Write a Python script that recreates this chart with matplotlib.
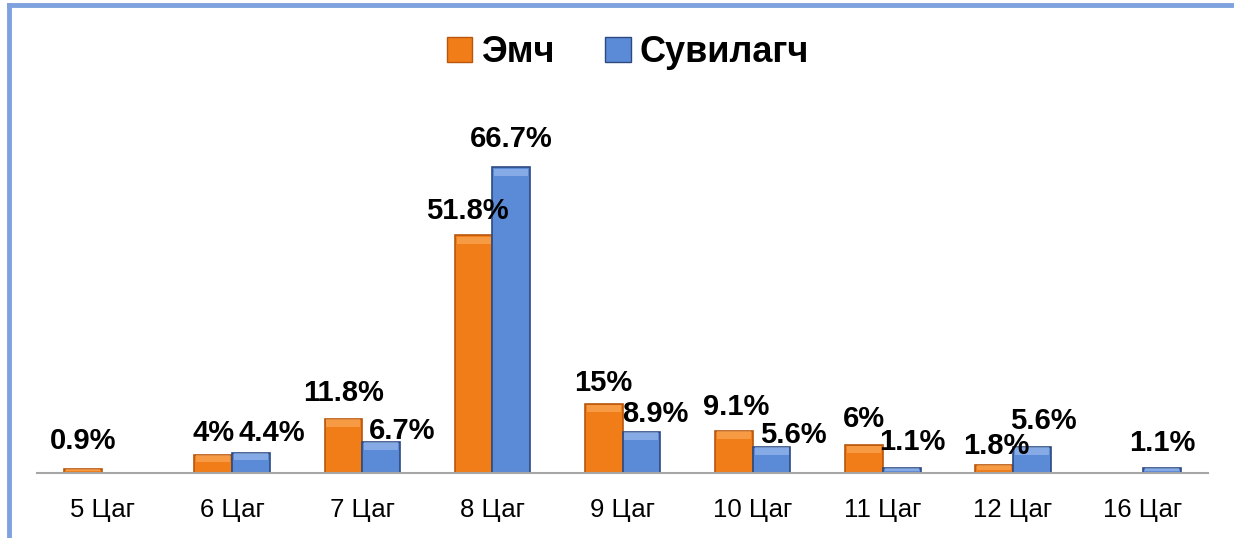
import numpy as np
import matplotlib.pyplot as plt
from matplotlib.patches import Rectangle
from matplotlib.lines import Line2D

plt.rcParams['font.family'] = ['Liberation Sans', 'DejaVu Sans']

categories = ['5 Цаг', '6 Цаг', '7 Цаг', '8 Цаг', '9 Цаг', '10 Цаг', '11 Цаг', '12 Цаг', '16 Цаг']
emch = [0.9, 4, 11.8, 51.8, 15, 9.1, 6, 1.8, None]
suvilagch = [None, 4.4, 6.7, 66.7, 8.9, 5.6, 1.1, 5.6, 1.1]
emch_labels = ['0.9%', '4%', '11.8%', '51.8%', '15%', '9.1%', '6%', '1.8%', '']
suv_labels = ['', '4.4%', '6.7%', '66.7%', '8.9%', '5.6%', '1.1%', '5.6%', '1.1%']

# label nudges in pixels (dx, dy from bar top), like the hand-moved labels
emch_nudge = [(0, 28), (0, 22), (0, 26), (-6, 24), (0, 21), (2, 24), (0, 26), (2, 19), (0, 0)]
suv_nudge = [(0, 0), (21, 20), (21, 11), (0, 28), (14, 18), (22, 12), (11, 26), (12, 26), (0, 25)]

orange, orange_edge, orange_light = '#F07D18', '#B8560C', '#FBB46A'
blue, blue_edge, blue_light = '#5B8AD6', '#2C4A80', '#A9C6F2'

fig = plt.figure(figsize=(12.34, 5.38), dpi=100)
ax = fig.add_axes([0.030, 0.1208, 0.949, 0.693])

x = np.arange(len(categories))
w = 0.29
bevel = 1.6


def draw_series(vals, offset, face, edge, light, labels, nudge):
    for i, v in enumerate(vals):
        if v is None:
            continue
        xc = x[i] + offset
        ax.bar(xc, v, w, color=face, edgecolor=edge, linewidth=1.2, zorder=2)
        b = min(bevel, v * 0.6)
        ax.bar(xc, b, w * 0.9, bottom=v - b - v * 0.005, color=light, linewidth=0, alpha=0.55, zorder=3)
        if labels[i]:
            dx, dy = nudge[i]
            ax.annotate(labels[i], (xc, v), xytext=(dx, dy), textcoords='offset pixels',
                        ha='center', va='center', fontsize=21, fontweight='bold', zorder=4)


draw_series(emch, -w / 2, orange, orange_edge, orange_light, emch_labels, emch_nudge)
draw_series(suvilagch, w / 2, blue, blue_edge, blue_light, suv_labels, suv_nudge)

ax.set_xlim(-0.5, len(categories) - 0.5)
ax.set_ylim(0, 81.3)
ax.set_xticks(x)
ax.set_xticklabels(categories, fontsize=18.5)
ax.tick_params(axis='x', length=0, pad=18)
ax.set_yticks([])
for s in ['top', 'right', 'left']:
    ax.spines[s].set_visible(False)
ax.spines['bottom'].set_color('#A6A6A6')
ax.spines['bottom'].set_linewidth(1.5)

handles = [Rectangle((0, 0), 1, 1, facecolor=orange, edgecolor=orange_edge),
           Rectangle((0, 0), 1, 1, facecolor=blue, edgecolor=blue_edge)]
fig.legend(handles, ['Эмч', 'Сувилагч'], loc='center', bbox_to_anchor=(0.509, 0.902), ncol=2,
           frameon=False, prop={'size': 26, 'weight': 'bold'}, handlelength=0.7, handleheight=0.7,
           handletextpad=0.25, columnspacing=1.4)

# blue frame on left and top edges
fig.add_artist(Line2D([9 / 1234, 9 / 1234], [0, 1 - 5 / 538], color='#7FA2DE', linewidth=3.5))
fig.add_artist(Line2D([9 / 1234, 1], [1 - 5 / 538, 1 - 5 / 538], color='#7FA2DE', linewidth=3.5))

fig.savefig('out.png', dpi=100)
